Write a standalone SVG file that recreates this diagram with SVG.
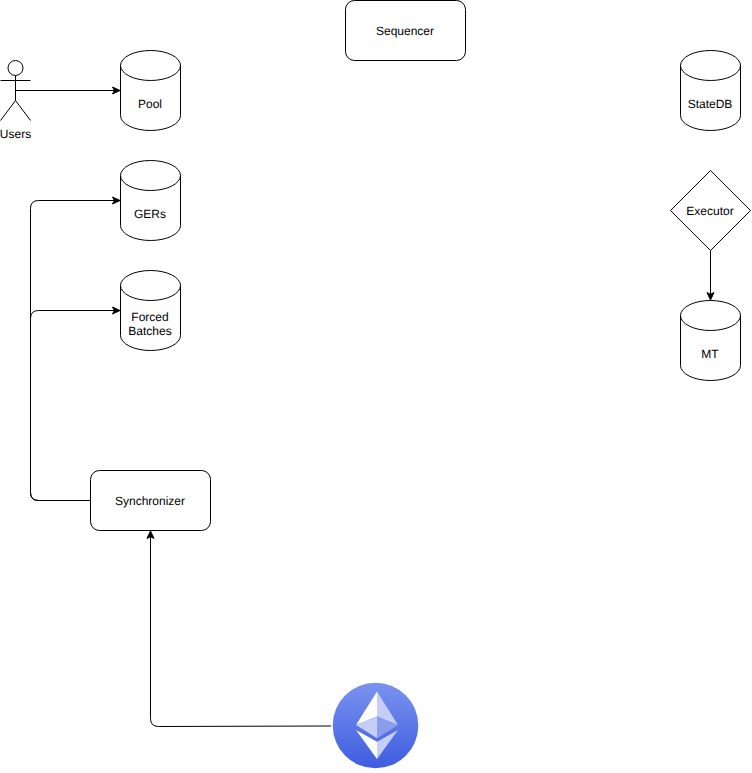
<svg xmlns="http://www.w3.org/2000/svg" width="752" height="773" viewBox="0 0 752 773">
<style>
.s{fill:#fff;stroke:#000;stroke-width:1}
.n{fill:none;stroke:#000;stroke-width:1}
.t{font-family:"Liberation Sans",Arial,sans-serif;font-size:12px;fill:#000;text-anchor:middle;text-rendering:geometricPrecision}
</style>
<defs>
<marker id="arrow" markerUnits="userSpaceOnUse" markerWidth="10" markerHeight="10" refX="8" refY="5" orient="auto" viewBox="0 0 10 10">
<path d="M0.500 1.500L8 5L0.500 8.500L2.400 5Z" fill="#000" stroke="#000"/>
</marker>
<linearGradient id="eth" x1="0" y1="0" x2="0" y2="1">
<stop offset="0" stop-color="#7a93ef"/>
<stop offset="1" stop-color="#3f5ce0"/>
</linearGradient>
<g id="cyl">
<path class="s" d="M0 15A30 15 0 0 1 60 15V65A30 15 0 0 1 0 65Z"/>
<path class="n" d="M0 15A30 15 0 0 0 60 15"/>
</g>
</defs>
<g id="connectors">
<path class="n" marker-end="url(#arrow)" d="M15.500 90.500H120"/>
<path class="n" marker-end="url(#arrow)" d="M90.500 500.500H38.500Q30.500 500.500 30.500 492.500V208.500Q30.500 200.500 38.500 200.500H120"/>
<path class="n" marker-end="url(#arrow)" d="M90.500 500.500H38.500Q30.500 500.500 30.500 492.500V318.500Q30.500 310.500 38.500 310.500H120"/>
<path class="n" marker-end="url(#arrow)" d="M331 726L158.500 726.500Q150.500 726.500 150.500 718.500V531"/>
<path class="n" marker-end="url(#arrow)" d="M710.500 250.500V300"/>
</g>
<g id="users">
<circle class="s" cx="15.500" cy="68" r="7.500"/>
<path class="n" d="M15.500 75.500V100.500M0.500 80.500H30.500M0.500 120.500L15.500 100.500L30.500 120.500"/>
<text class="t" x="15.500" y="138">Users</text>
</g>
<g id="pool"><use href="#cyl" x="120.500" y="50.500"/><text class="t" x="150" y="108">Pool</text></g>
<g id="gers"><use href="#cyl" x="120.500" y="160.500"/><text class="t" x="150" y="218">GERs</text></g>
<g id="forced-batches"><use href="#cyl" x="120.500" y="270.500"/><text class="t" x="150" y="321">Forced</text><text class="t" x="150" y="335">Batches</text></g>
<g id="sequencer"><rect class="s" x="345.500" y="0.500" width="120" height="60" rx="9"/><text class="t" x="405" y="35">Sequencer</text></g>
<g id="statedb"><use href="#cyl" x="680.500" y="50.500"/><text class="t" x="710" y="108">StateDB</text></g>
<g id="executor"><path class="s" d="M710.500 170.500L750.500 210.500L710.500 250.500L670.500 210.500Z"/><text class="t" x="710" y="215">Executor</text></g>
<g id="mt"><use href="#cyl" x="680.500" y="300.500"/><text class="t" x="710" y="358">MT</text></g>
<g id="synchronizer"><rect class="s" x="90.500" y="470.500" width="120" height="60" rx="9"/><text class="t" x="150" y="505">Synchronizer</text></g>
<g id="ethereum">
<circle cx="375.500" cy="725.500" r="42.800" fill="url(#eth)"/>
<path d="M377 691.500L356 725L377 716.500Z" fill="#fff"/>
<path d="M377 691.500L398 725L377 716.500Z" fill="#c5cff6"/>
<path d="M377 716.500L356 725L377 738.300Z" fill="#c5cff6"/>
<path d="M377 716.500L398 725L377 738.300Z" fill="#8a9cec"/>
<path d="M356 730L377 741.700V759Z" fill="#fff"/>
<path d="M398 730L377 741.700V759Z" fill="#c5cff6"/>
</g>
</svg>
